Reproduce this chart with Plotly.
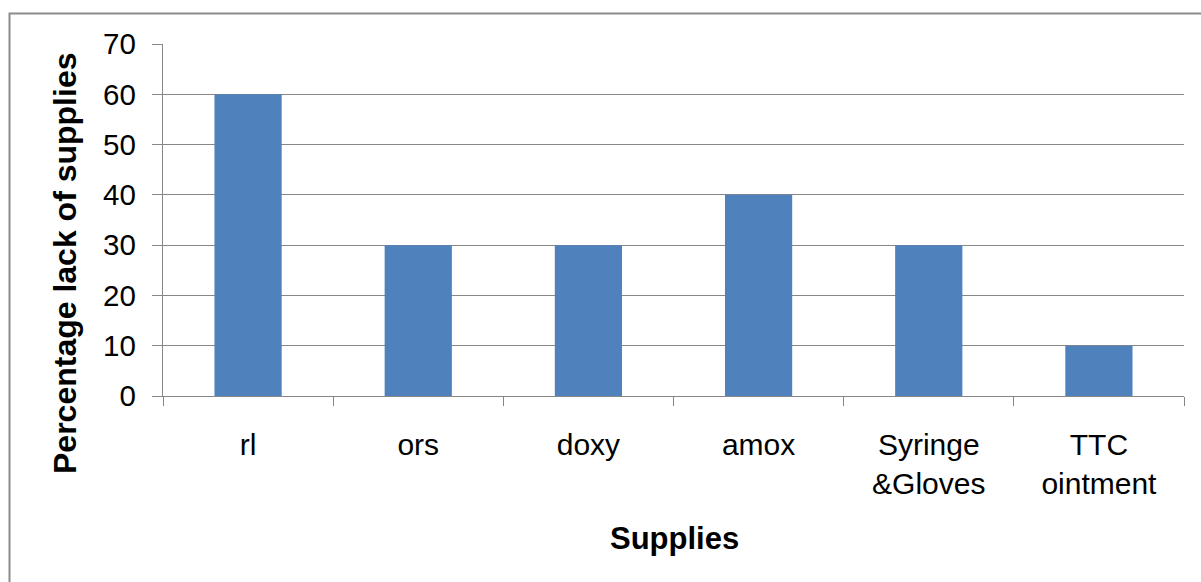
import plotly.graph_objects as go

categories = ["rl", "ors", "doxy", "amox", "Syringe<br>&Gloves", "TTC<br>ointment"]
values = [60, 30, 30, 40, 30, 10]
y_ticks = [0, 10, 20, 30, 40, 50, 60, 70]

W, H = 1201, 582
L, R, T, B = 163, 17, 44, 186
pw = W - L - R
ph = H - T - B

def px_x(x):
    return (x - L) / pw

def px_y(y):
    return (H - B - y) / ph

fig = go.Figure(go.Bar(
    x=categories, y=values,
    marker=dict(color="#4F81BD", line=dict(width=0)),
    width=0.395,
))

font = "Liberation Sans, Arial, sans-serif"
fig.update_layout(
    width=W, height=H,
    margin=dict(l=L, r=R, t=T, b=B),
    paper_bgcolor="white", plot_bgcolor="white",
    showlegend=False,
    font=dict(family=font, color="black", size=29),
)
fig.update_yaxes(
    range=[0, 70], tickvals=y_ticks, showgrid=True, gridcolor="#878787", gridwidth=1.3,
    showline=True, linecolor="#878787", linewidth=1.3,
    ticks="outside", ticklen=10, tickcolor="#878787", tickwidth=1.3,
    ticklabelstandoff=10,
    tickfont=dict(size=29.5),
    zeroline=False,
)
fig.update_xaxes(
    showline=True, linecolor="#878787", linewidth=1.3,
    ticks="outside", tickson="boundaries", ticklen=9, tickcolor="#878787", tickwidth=1.3,
    ticklabelstandoff=22,
    tickfont=dict(size=30),
)

fig.add_annotation(text="<b>Percentage lack of supplies</b>", textangle=-90,
                   xref="paper", yref="paper", x=px_x(65), y=px_y(263),
                   xanchor="center", yanchor="middle", showarrow=False,
                   font=dict(size=32, family=font, color="black"))
fig.add_annotation(text="<b>Supplies</b>",
                   xref="paper", yref="paper", x=px_x(674), y=px_y(538),
                   xanchor="center", yanchor="middle", showarrow=False,
                   font=dict(size=31, family=font, color="black"))

x0 = px_x(9.5)
y1 = px_y(13.5)
fig.add_shape(type="rect", xref="paper", yref="paper",
              x0=x0, x1=1.2, y0=-1.0, y1=y1,
              line=dict(color="#8c8c8c", width=2), fillcolor="rgba(0,0,0,0)", layer="below")

fig.write_html("out.html")
